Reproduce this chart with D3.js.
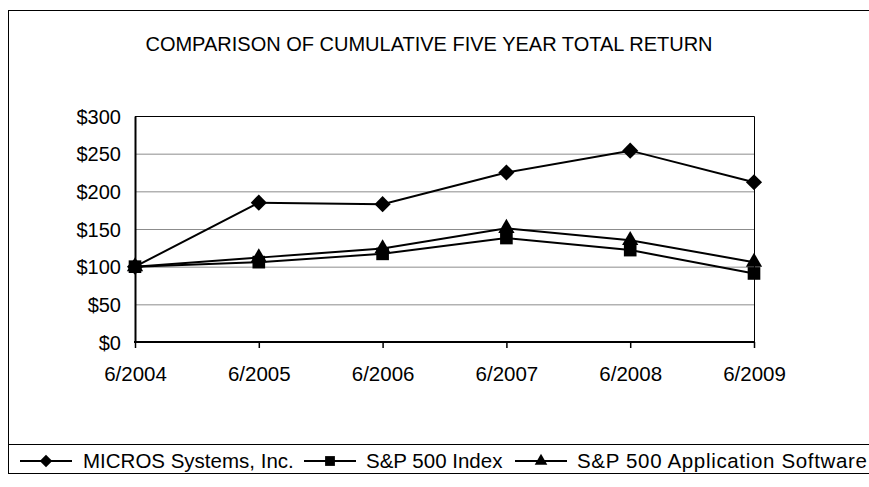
<!DOCTYPE html>
<html>
<head>
<meta charset="utf-8">
<script src="https://cdn.jsdelivr.net/npm/d3@7"></script>
<style>
  body { margin: 0; background: #fff; }
  text { font-family: "Liberation Sans", Arial, sans-serif; fill: #000; }
</style>
</head>
<body>
<div id="chart"></div>
<script>
let width = 869
let height = 487

// data
let years = ["6/2004", "6/2005", "6/2006", "6/2007", "6/2008", "6/2009"]
let micros = [100, 185, 183, 225, 254, 212]
let sp500 = [100, 106, 117, 138, 122, 91]
let appSoftware = [100, 112, 124, 151, 135, 106]
let seriesNames = ["MICROS Systems, Inc.", "S&P 500 Index", "S&P 500 Application Software"]
let yTicks = [0, 50, 100, 150, 200, 250, 300]

// diamond = square turned 45 degrees
let series = [
  { name: seriesNames[0], values: micros, symbol: d3.symbolSquare, rot: 45, size: 130 },
  { name: seriesNames[1], values: sp500, symbol: d3.symbolSquare, rot: 0, size: 160 },
  { name: seriesNames[2], values: appSoftware, symbol: d3.symbolTriangle, rot: 0, size: 115 }
]

let svg = d3.select("#chart")
  .append("svg")
  .attr("width", width)
  .attr("height", height)

// outer frame (right side runs off the page)
svg.append("rect")
  .attr("x", 8.5).attr("y", 10.5)
  .attr("width", 900).attr("height", 463)
  .attr("fill", "none").attr("stroke", "#000").attr("stroke-width", 1)

svg.append("text")
  .attr("x", 429).attr("y", 51)
  .attr("text-anchor", "middle")
  .attr("font-size", 20)
  .text("COMPARISON OF CUMULATIVE FIVE YEAR TOTAL RETURN")

let plotLeft = 135, plotRight = 754, plotTop = 116, plotBottom = 342

let x = d3.scalePoint().domain(years).range([plotLeft, plotRight])
let y = d3.scaleLinear().domain([0, 300]).range([plotBottom, plotTop])

// gridlines
svg.append("g")
  .selectAll("line")
  .data(yTicks.filter(d => d > 0 && d < 300))
  .enter()
  .append("line")
  .attr("x1", plotLeft).attr("x2", plotRight)
  .attr("y1", d => y(d) + 0.5).attr("y2", d => y(d) + 0.5)
  .attr("stroke", "#8c8c8c").attr("stroke-width", 1)

// top and right border of plot
svg.append("path")
  .attr("d", `M${plotLeft},${plotTop + 0.5}H${plotRight + 0.5}V${plotBottom}`)
  .attr("fill", "none").attr("stroke", "#000").attr("stroke-width", 1)

// y axis
let yAxis = d3.axisLeft(y).tickValues(yTicks).tickSize(0).tickPadding(14)
  .tickFormat(d => "$" + d)
let gy = svg.append("g")
  .attr("transform", `translate(${plotLeft},0)`)
  .call(yAxis)
gy.select(".domain").attr("stroke", "#000").attr("stroke-width", 2)
gy.selectAll("text").attr("font-size", 20).attr("dy", "0.36em")

// x axis
let xAxis = d3.axisBottom(x).tickSize(6).tickSizeOuter(0).tickPadding(18)
let gx = svg.append("g")
  .attr("transform", `translate(0,${plotBottom})`)
  .call(xAxis)
gx.select(".domain").attr("stroke", "#000").attr("stroke-width", 2)
  .attr("d", `M${plotLeft - 1},0H${plotRight + 1}`)
gx.selectAll(".tick line").attr("stroke", "#000").attr("stroke-width", 1.5)
gx.selectAll("text").attr("font-size", 20.5)

let line = d3.line()
  .x((d, i) => x(years[i]))
  .y(d => y(d))

series.forEach(s => {
  svg.append("path")
    .datum(s.values)
    .attr("d", line)
    .attr("fill", "none")
    .attr("stroke", "#000")
    .attr("stroke-width", 2)

  svg.append("g")
    .selectAll("path")
    .data(s.values)
    .enter()
    .append("path")
    .attr("d", d3.symbol().type(s.symbol).size(s.size))
    .attr("transform", (d, i) => `translate(${x(years[i])},${y(d)}) rotate(${s.rot})`)
    .attr("fill", "#000")
})

// legend box
svg.append("line")
  .attr("x1", 8).attr("x2", width)
  .attr("y1", 444.5).attr("y2", 444.5)
  .attr("stroke", "#000")

let legendX = [20, 304, 515]
let legendY = 461
let legend = svg.append("g")
  .selectAll("g")
  .data(series)
  .enter()
  .append("g")
  .attr("transform", (d, i) => `translate(${legendX[i]},${legendY})`)

legend.append("line")
  .attr("x1", 0).attr("x2", 52)
  .attr("stroke", "#000").attr("stroke-width", 2)
legend.append("path")
  .attr("d", d => d3.symbol().type(d.symbol).size(d.size * 0.6)())
  .attr("transform", d => `translate(26,0) rotate(${d.rot})`)
legend.append("text")
  .attr("x", d => d.rot ? 63 : 62)
  .attr("dy", "0.36em")
  .attr("font-size", 20.5)
  .text(d => d.name)

// the last entry runs to the page edge in the reference
legend.filter((d, i) => i === 2).select("text")
  .attr("textLength", 290)
  .attr("lengthAdjust", "spacing")
</script>
</body>
</html>
